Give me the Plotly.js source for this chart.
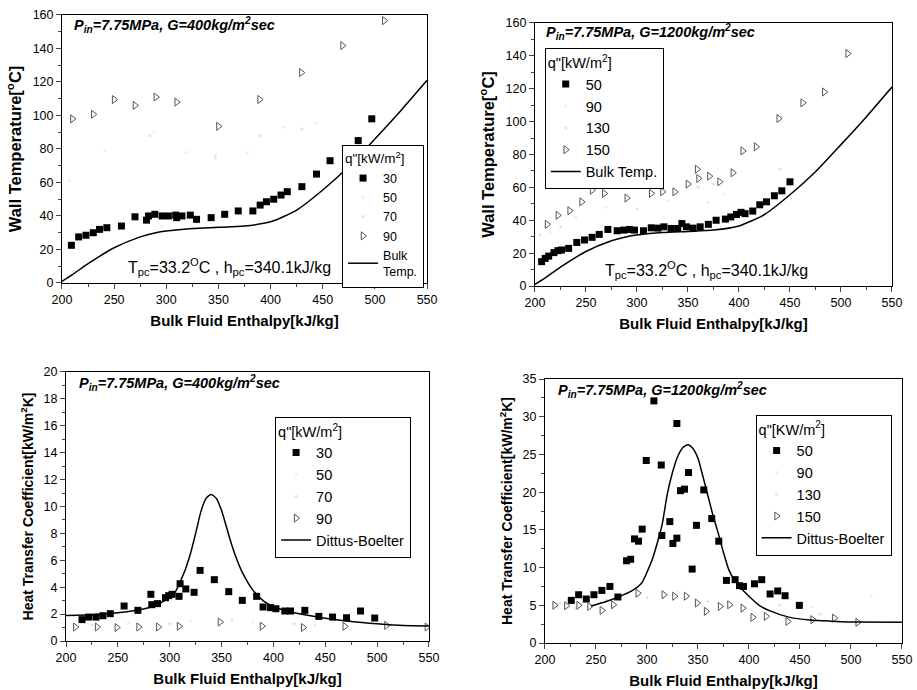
<!DOCTYPE html>
<html><head><meta charset="utf-8">
<script src="https://cdn.plot.ly/plotly-3.0.1.min.js"></script>
<style>body{margin:0;background:#fff}</style>
</head><body><div id="chart" style="width:917px;height:690px"></div>
<script>
// ---------- Top-left: Wall temperature, G=400 ----------
const tl30_h = [209,216,223,230,236,243,257,270,281,283,289,296,302,309,310,315,323,329,343,356,369,383,390,396,403,410,416,430,444,457,484,497];
const tl30_T = [22.5,27.5,28.5,30,32,33,34,39.5,37.5,40,41,40,40,40.5,39,40,40.5,38,39,41,43,43,46.5,48.5,50,52.5,54.5,57.5,65,73,85,98];
const tl50_h = [207,241,288,319,347,378,412,444];
const tl50_T = [61,79,90,78,76,78,93,95.5];
const tl70_h = [284,347,390,430];
const tl70_T = [88,74.6,88,92];
const tl90_h = [210,230,250,270,290,310,350,389.5,429.5,469,509];
const tl90_T = [98,100.7,109.5,106,111,108,93.5,109.5,125.6,141.7,156.6];
const bulk_h = [200,210,225,250,275,290,300,325,350,375,400,425,450,475,500,525,550];
const bulk_T = [1,5,11.5,21,27.5,30,31,32.5,33.2,34,36.5,43.5,55.5,69.5,86,103,121];

// ---------- Top-right: Wall temperature, G=1200 ----------
const tr50_h = [206.5,210,213.4,218.6,222.5,226,233,241,248.6,256,263,271.5,280.6,287,292.7,297.6,306.4,314,320.5,326.4,333.5,340,344,348.5,355,362,370,377.6,386.7,392,397.5,402,406,413.5,420.4,427,434.7,442,450];
const tr50_T = [14.8,16.8,18.2,20.3,21.5,21.9,22.9,26.5,28,29.6,31.4,34.4,33.6,34,34.4,34,33.6,35.4,35.2,36,35,35,38,36,35.2,36,37.5,40,40.7,42,43.5,44.8,44,45.6,49.4,51.2,54.9,57.9,63.4];
const tr90_h = [215,240,270,330,370,385];
const tr90_T = [33,42,48,52,51,56];
const tr130_h = [205,225,300,360,375,440];
const tr130_T = [31,36,47,60,62,71];
const tr150_h = [211.8,222.5,234,245.7,256,268,290,314,325,337,350,359,360.4,371,381,394,403.7,416.8,439,462.5,483.7,506.6];
const tr150_T = [37.5,43,45.8,51.2,58.3,56.3,53.5,56.3,57.3,57.3,62,71,65.4,66.8,63.4,68.9,82.2,84.7,101.9,111.4,118,141.4];

// ---------- Bottom-left: HTC, G=400 ----------
const bl30_h = [215.4,221.8,228.9,235.6,242.7,256,269.3,281.8,282.7,288.2,295.9,299,302.3,309,310,315.5,323.5,329.3,343,356.9,370,383.8,390,397.3,402.4,411,416.5,430.3,443.8,457,470.5,484,497.7];
const bl30_k = [1.59,1.78,1.78,1.88,2.03,2.6,2.28,3.47,2.7,2.78,3.22,3.37,3.47,3.32,4.26,3.87,3.62,5.25,4.56,3.67,3.02,3.32,2.53,2.48,2.4,2.23,2.23,2.28,1.83,1.78,1.73,2.23,1.71];
const bl50_h = [208,260,320,380,440];
const bl50_k = [1.8,1.3,1.5,1.4,1.2];
const bl70_h = [225,300,360,420];
const bl70_k = [1.2,1.3,1.6,1.3];
const bl90_h = [209,230,249,270,289,309,348.5,389,428.7,468.8,509,548];
const bl90_k = [1.04,1.04,1.0,1.04,1.04,1.1,1.41,1.1,1.0,1.09,1.16,1.04];
const db1_h = [200,225,250,270,285,295,305,310,315,320,325,330,335,340,345,350,355,360,365,370,380,390,400,420,450,475,500,525,550];
const db1_k = [1.9,1.95,2.1,2.3,2.6,3.0,3.6,4.4,5.3,6.5,8.0,9.6,10.6,10.9,10.6,9.7,8.4,7.1,6.0,5.1,3.8,3.0,2.55,2.1,1.7,1.45,1.28,1.15,1.12];

// ---------- Bottom-right: HTC, G=1200 ----------
const br50_h = [225.8,233,240.5,248,255.8,263.7,271.5,280,284,287.8,291.7,295.3,299.3,306.8,314,314.6,322.4,325.4,329.3,329.3,332.9,336.8,340.7,344.3,348.5,355.7,363.5,370.4,377.9,386.4,390.7,394.6,405.4,412.5,420.7,428.2,435.4,449.4];
const br50_k = [5.65,6.4,5.83,6.4,6.97,7.5,6.1,10.9,11.1,13.8,13.5,15.1,24.2,32.1,23.6,14.25,16.1,13.2,29.1,13.9,20.2,20.4,22.6,9.8,15.6,20.3,16.5,13.5,8.3,8.4,7.6,7.5,7.85,8.4,6.5,6.9,6.27,4.99];
const br90_h = [215,260,330,400,462,520];
const br90_k = [5.3,5.8,6.8,6.0,4.8,6.2];
const br130_h = [230,300,360,430,470];
const br130_k = [4.6,6.0,5.5,5.0,3.8];
const br150_h = [209.5,221,233,243.7,255.8,267,291,316.5,327,338.4,349.2,358,371.7,380.9,394,403.7,416.8,438,462.5,483.7,506.6];
const br150_k = [5.0,4.94,5.0,4.85,4.32,5.07,6.6,6.4,6.2,6.2,5.3,4.2,4.85,5.07,4.63,3.4,3.53,2.87,3.1,3.3,2.74];
const db2_h = [245,260,272,285,295,301,305,311,315,320,325,330,335,340,345,350,355,360,365,370,375,380,385,392,400,410,420,440,460,480,500,550];
const db2_k = [4.9,5.5,6.1,6.9,8.0,9.7,11.0,13.7,15.8,19.8,22.6,24.7,25.9,26.3,25.8,24.5,22.0,19.4,16.8,14.5,12.0,9.8,8.5,7.3,6.2,5.0,4.3,3.4,3.05,2.9,2.8,2.75];

const FONT = 'Liberation Sans, Arial, sans-serif';
const faint1 = '#ececec', faint2 = '#e2e2e2', triCol = '#555';

function sq(x, y, name, xa, ya, lg) {
  return {x, y, name, type:'scatter', mode:'markers', xaxis:xa, yaxis:ya, legend:lg,
    marker:{symbol:'square', size:7, color:'#000'}};
}
function fa(x, y, name, xa, ya, lg, col) {
  return {x, y, name, type:'scatter', mode:'markers', xaxis:xa, yaxis:ya, legend:lg,
    marker:{symbol:'circle', size:3, color:col}};
}
function tri(x, y, name, xa, ya, lg) {
  return {x, y, name, type:'scatter', mode:'markers', xaxis:xa, yaxis:ya, legend:lg,
    marker:{symbol:'triangle-right-open', size:7, color:triCol, line:{width:1}}};
}
function ln(x, y, name, xa, ya, lg) {
  return {x, y, name, type:'scatter', mode:'lines', xaxis:xa, yaxis:ya, legend:lg,
    line:{color:'#000', width:1.5, shape:'spline', smoothing:0.6}};
}

const data = [
  sq(tl30_h, tl30_T, '30', 'x', 'y', 'legend'),
  fa(tl50_h, tl50_T, '50', 'x', 'y', 'legend', faint1),
  fa(tl70_h, tl70_T, '70', 'x', 'y', 'legend', faint2),
  tri(tl90_h, tl90_T, '90', 'x', 'y', 'legend'),
  ln(bulk_h, bulk_T, 'Bulk<br>Temp.', 'x', 'y', 'legend'),

  sq(tr50_h, tr50_T, '50', 'x2', 'y2', 'legend2'),
  fa(tr90_h, tr90_T, '90', 'x2', 'y2', 'legend2', faint1),
  fa(tr130_h, tr130_T, '130', 'x2', 'y2', 'legend2', faint2),
  tri(tr150_h, tr150_T, '150', 'x2', 'y2', 'legend2'),
  ln(bulk_h, bulk_T, 'Bulk Temp.', 'x2', 'y2', 'legend2'),

  sq(bl30_h, bl30_k, '30', 'x3', 'y3', 'legend3'),
  fa(bl50_h, bl50_k, '50', 'x3', 'y3', 'legend3', faint1),
  fa(bl70_h, bl70_k, '70', 'x3', 'y3', 'legend3', faint2),
  tri(bl90_h, bl90_k, '90', 'x3', 'y3', 'legend3'),
  ln(db1_h, db1_k, 'Dittus-Boelter', 'x3', 'y3', 'legend3'),

  sq(br50_h, br50_k, '50', 'x4', 'y4', 'legend4'),
  fa(br90_h, br90_k, '90', 'x4', 'y4', 'legend4', faint1),
  fa(br130_h, br130_k, '130', 'x4', 'y4', 'legend4', faint2),
  tri(br150_h, br150_k, '150', 'x4', 'y4', 'legend4'),
  ln(db2_h, db2_k, 'Dittus-Boelter', 'x4', 'y4', 'legend4'),
];

function xax(domain, anchor) {
  return {domain, anchor, range:[200,550], dtick:50, tick0:200, ticks:'outside', ticklen:5, tickwidth:1,
    minor:{ticks:'outside', ticklen:3, dtick:25, tick0:200},
    showline:true, mirror:true, linecolor:'#000', linewidth:1, showgrid:false, zeroline:false,
    tickfont:{size:12.5, family:FONT, color:'#000'},
    title:{text:'<b>Bulk Fluid Enthalpy[kJ/kg]</b>', font:{size:15, family:FONT, color:'#000'}, standoff:9}};
}
function yax(domain, anchor, range, dtick, mdt, title, tsize) {
  return {domain, anchor, range, dtick, tick0:0, ticks:'outside', ticklen:5, tickwidth:1,
    minor:{ticks:'outside', ticklen:3, dtick:mdt, tick0:0},
    showline:true, mirror:true, linecolor:'#000', linewidth:1, showgrid:false, zeroline:false,
    tickfont:{size:12.5, family:FONT, color:'#000'},
    title:{text:title, font:{size:tsize, family:FONT, color:'#000'}, standoff:6}};
}
function leg(x, y, fs) {
  return {x, y, xanchor:'left', yanchor:'top', bgcolor:'#fff', bordercolor:'#000', borderwidth:1,
    font:{size:fs, family:FONT, color:'#000'}, tracegroupgap:0, itemwidth:30,
    title:{text:'q"[kW/m<sup>2</sup>]', font:{size:fs, family:FONT, color:'#000'}}};
}
const l1 = leg(0.373, 0.790, 12.5); l1.title.font.size = 13.5;
const l4 = leg(0.824, 0.399, 14.5); l4.title.text = 'q"[KW/m<sup>2</sup>]';

const layout = {
  width:917, height:690, margin:{l:0, r:0, t:0, b:0},
  paper_bgcolor:'#fff', plot_bgcolor:'#fff', font:{family:FONT, color:'#000'},
  xaxis: xax([0.0676,0.4657], 'y'),
  yaxis: yax([0.5899,0.9783], 'x', [0,160], 20, 10, '<b>Wall Temperature[<sup>o</sup>C]</b>', 16.5),
  xaxis2: xax([0.5834,0.9727], 'y2'),
  yaxis2: yax([0.5855,0.9667], 'x2', [0,160], 20, 10, '<b>Wall Temperature[<sup>o</sup>C]</b>', 16.5),
  xaxis3: xax([0.0720,0.4678], 'y3'),
  yaxis3: yax([0.0710,0.4609], 'x3', [0,20], 2, 1, '<b>Heat Transfer Coefficient[kW/m<sup>2</sup>K]</b>', 14),
  xaxis4: xax([0.5943,0.9836], 'y4'),
  yaxis4: yax([0.0681,0.4507], 'x4', [0,35], 5, 2.5, '<b>Heat Transfer Coefficient[kW/m<sup>2</sup>K]</b>', 14),
  legend: l1,
  legend2: leg(0.594, 0.930, 14.5),
  legend3: leg(0.300, 0.396, 14.5),
  legend4: l4,
  showlegend:true,
  annotations:[
    {xref:'x', yref:'y', x:210, y:154, xanchor:'left', yanchor:'middle', showarrow:false,
     text:'<b><i>P<sub>in</sub>=7.75MPa, G=400kg/m<sup>2</sup>sec</i></b>', font:{size:14.5, family:FONT}},
    {xref:'x2', yref:'y2', x:209, y:154.5, xanchor:'left', yanchor:'middle', showarrow:false,
     text:'<b><i>P<sub>in</sub>=7.75MPa, G=1200kg/m<sup>2</sup>sec</i></b>', font:{size:14.5, family:FONT}},
    {xref:'x3', yref:'y3', x:210.5, y:19.2, xanchor:'left', yanchor:'middle', showarrow:false,
     text:'<b><i>P<sub>in</sub>=7.75MPa, G=400kg/m<sup>2</sup>sec</i></b>', font:{size:14.5, family:FONT}},
    {xref:'x4', yref:'y4', x:210.8, y:33.5, xanchor:'left', yanchor:'middle', showarrow:false,
     text:'<b><i>P<sub>in</sub>=7.75MPa, G=1200kg/m<sup>2</sup>sec</i></b>', font:{size:14.5, family:FONT}},
    {xref:'x', yref:'y', x:361, y:9.6, xanchor:'center', yanchor:'middle', showarrow:false,
     text:'T<sub>pc</sub>=33.2<sup>O</sup>C , h<sub>pc</sub>=340.1kJ/kg', font:{size:16, family:FONT}},
    {xref:'x2', yref:'y2', x:368.6, y:9.7, xanchor:'center', yanchor:'middle', showarrow:false,
     text:'T<sub>pc</sub>=33.2<sup>O</sup>C , h<sub>pc</sub>=340.1kJ/kg', font:{size:16, family:FONT}}
  ]
};

Plotly.newPlot('chart', data, layout, {displayModeBar:false, staticPlot:true});
</script></body></html>
